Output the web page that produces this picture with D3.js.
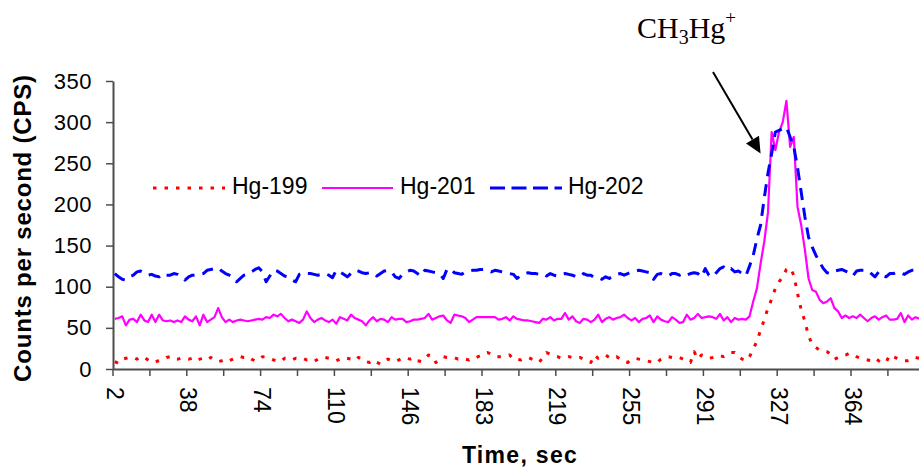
<!DOCTYPE html>
<html>
<head>
<meta charset="utf-8">
<script src="https://cdn.jsdelivr.net/npm/d3@7"></script>
<style>
  html, body { margin: 0; padding: 0; background: #fff; overflow: hidden; }
  svg { display: block; }
</style>
</head>
<body>
<svg id="chart" width="919" height="468"></svg>
<script>
// Mercury isotope signals (counts per second) recorded every scan.
const hg199 = [
  9, 7, 12, 13, 14, 14, 12, 15, 14, 11, 8, 9, 10, 11, 14, 15, 12, 12, 13, 13,
  12, 13, 10, 12, 13, 11, 14, 11, 9, 10, 12, 10, 12, 14, 15, 14, 15, 12, 10, 11,
  15, 14, 13, 11, 10, 9, 13, 13, 11, 13, 12, 13, 11, 11, 9, 12, 14, 14, 13, 12,
  10, 12, 14, 13, 12, 10, 14, 13, 9, 8, 11, 8, 6, 10, 12, 10, 9, 11, 14, 13,
  12, 14, 10, 9, 13, 17, 16, 8, 11, 15, 14, 14, 14, 12, 13, 12, 11, 14, 14, 16,
  19, 20, 18, 15, 15, 15, 16, 17, 12, 12, 11, 13, 14, 12, 10, 8, 14, 20, 18, 16,
  15, 13, 14, 15, 14, 13, 14, 12, 10, 8, 17, 13, 16, 17, 14, 13, 15, 12, 9, 8,
  11, 13, 12, 11, 10, 9, 7, 8, 12, 14, 15, 14, 13, 14, 12, 10, 8, 21, 12, 17,
  16, 13, 14, 16, 16, 15, 17, 20, 20, 15, 12, 10, 15, 24, 34, 47, 60, 74, 85, 98,
  106, 112, 121, 123, 114, 92, 72, 58, 40, 30, 26, 23, 22, 21, 18, 12, 14, 16, 17, 19,
  18, 15, 13, 12, 11, 10, 13, 10, 8, 8, 17, 15, 13, 11, 10, 10, 11, 14, 13
];
const hg201 = [
  61, 62, 64, 53, 60, 61, 57, 66, 59, 57, 66, 57, 66, 59, 58, 59, 57, 59, 57, 64,
  60, 58, 64, 53, 66, 57, 60, 63, 74, 63, 57, 60, 57, 59, 60, 59, 58, 59, 60, 61,
  60, 63, 62, 66, 64, 67, 62, 58, 60, 58, 56, 60, 70, 62, 57, 60, 62, 59, 57, 60,
  55, 63, 61, 59, 66, 62, 60, 58, 53, 59, 63, 58, 61, 60, 57, 63, 60, 61, 61, 57,
  58, 60, 60, 61, 62, 67, 60, 62, 64, 65, 59, 56, 66, 65, 64, 62, 57, 60, 63, 63,
  63, 63, 63, 63, 60, 61, 63, 59, 64, 61, 60, 59, 59, 58, 57, 56, 61, 60, 63, 59,
  61, 61, 68, 60, 64, 58, 56, 61, 60, 57, 60, 66, 57, 61, 63, 60, 62, 63, 66, 62,
  59, 62, 57, 61, 62, 65, 57, 64, 60, 58, 57, 63, 60, 56, 57, 66, 60, 62, 67, 62,
  63, 64, 63, 61, 67, 59, 63, 57, 62, 60, 61, 60, 64, 82, 98, 128, 155, 190, 288, 266,
  288, 300, 326, 270, 282, 197, 175, 145, 110, 96, 94, 84, 80, 82, 86, 74, 70, 62, 65, 62,
  64, 62, 66, 62, 58, 62, 64, 60, 63, 65, 60, 60, 61, 68, 57, 65, 60, 63, 61
];
const hg202 = [
  116, 112, 109, 108, 112, 114, 118, 119, 117, 114, 115, 113, 112, 116, 114, 114, 116, 115, 112, 108,
  112, 114, 114, 115, 116, 120, 121, 122, 123, 119, 116, 114, 112, 106, 110, 114, 115, 118, 121, 123,
  118, 106, 113, 120, 119, 116, 113, 112, 108, 106, 115, 117, 116, 116, 115, 114, 115, 116, 114, 111,
  120, 118, 115, 112, 116, 120, 119, 117, 116, 117, 117, 113, 116, 119, 120, 118, 112, 110, 115, 118,
  120, 119, 116, 113, 120, 119, 118, 117, 116, 110, 121, 122, 117, 116, 115, 118, 119, 120, 120, 121,
  121, 120, 118, 120, 119, 118, 117, 116, 115, 110, 114, 116, 117, 116, 116, 115, 116, 113, 116, 114,
  113, 115, 116, 115, 114, 112, 112, 116, 114, 114, 111, 111, 109, 112, 110, 113, 115, 116, 114, 116,
  118, 119, 120, 119, 118, 117, 109, 115, 116, 114, 113, 116, 116, 114, 116, 114, 116, 117, 116, 112,
  122, 114, 112, 117, 122, 124, 120, 122, 118, 119, 116, 113, 125, 138, 158, 175, 208, 238, 262, 288,
  290, 292, 294, 282, 270, 245, 215, 185, 160, 148, 138, 130, 122, 117, 116, 119, 120, 121, 119, 117,
  113, 119, 120, 120, 120, 116, 112, 118, 113, 112, 116, 116, 118, 117, 115, 118, 120, 120, 119
];

// Time labels shown under every 20th scan; tick marks every 10th scan.
const timeLabels = ["2", "38", "74", "110", "146", "183", "219", "255", "291", "327", "364"];
const labelEvery = 20;
const tickEvery = 10;
const yTicks = [0, 50, 100, 150, 200, 250, 300, 350];

const series = [
  { name: "Hg-199", values: hg199, color: "#ff0000", width: 3,   dash: "3.5,8" },
  { name: "Hg-201", values: hg201, color: "#ff00ff", width: 2.2, dash: null },
  { name: "Hg-202", values: hg202, color: "#0000ff", width: 3,   dash: "12,8" }
];

const svg = d3.select("#chart");
const N = hg201.length;
const plotLeft = 113, plotBottom = 369, plotTop = 81, step = 3.69;

const x = d3.scaleBand().domain(d3.range(N)).range([plotLeft, plotLeft + N * step]).paddingInner(0).paddingOuter(0);
const y = d3.scaleLinear().domain([0, 350]).range([plotBottom, plotTop]);
const cx = i => x(i) + x.bandwidth() / 2;

const axisColor = "#4d4d4d";
const sans = "'Liberation Sans', Arial, sans-serif";

// Y axis
const yAxis = svg.append("g")
  .attr("transform", `translate(${plotLeft},0)`)
  .call(d3.axisLeft(y).tickValues(yTicks).tickSize(7).tickPadding(14).tickSizeOuter(0));
yAxis.select(".domain").attr("stroke", axisColor).attr("stroke-width", 2);
yAxis.selectAll(".tick line").attr("stroke", axisColor).attr("stroke-width", 1.5);
yAxis.selectAll("text")
  .attr("fill", "#000")
  .style("font-family", sans)
  .style("font-size", "22px")
  .style("letter-spacing", "0.5px");

// X axis: ticks between scans, labels centred on scans
const xAxis = svg.append("g")
  .attr("transform", `translate(0,${plotBottom})`)
  .call(d3.axisBottom(x)
    .tickValues(d3.range(0, N, tickEvery))
    .tickSize(7)
    .tickSizeOuter(0)
    .tickFormat(i => (i % labelEvery === 0 ? timeLabels[i / labelEvery] || "" : "")));
xAxis.select(".domain").attr("stroke", axisColor).attr("stroke-width", 2);
xAxis.selectAll(".tick line")
  .attr("stroke", axisColor).attr("stroke-width", 1.5)
  .attr("transform", `translate(${-x.bandwidth() / 2},0)`);
xAxis.selectAll(".tick text")
  .attr("transform", "rotate(90)")
  .attr("x", 18).attr("y", 0).attr("dy", "0.36em")
  .style("text-anchor", "start")
  .attr("fill", "#000")
  .style("font-family", sans)
  .style("font-size", "23px");

// Series lines
const line = d3.line().x((d, i) => cx(i)).y(d => y(d));
series.forEach(s => {
  svg.append("path")
    .datum(s.values)
    .attr("fill", "none")
    .attr("stroke", s.color)
    .attr("stroke-width", s.width)
    .attr("stroke-dasharray", s.dash)
    .attr("stroke-linejoin", "round")
    .attr("d", line);
});

// Legend
const legendY = 188;
const legendItems = [
  { s: series[0], x0: 153, x1: 225, tx: 232 },
  { s: series[1], x0: 322, x1: 393, tx: 400 },
  { s: series[2], x0: 490, x1: 562, tx: 568 }
];
legendItems.forEach(it => {
  svg.append("line")
    .attr("x1", it.x0).attr("x2", it.x1)
    .attr("y1", legendY).attr("y2", legendY)
    .attr("stroke", it.s.color)
    .attr("stroke-width", it.s.width)
    .attr("stroke-dasharray", it.s.name === "Hg-202" ? "15,6.5" : it.s.dash);
  svg.append("text")
    .attr("x", it.tx).attr("y", legendY + 6)
    .style("font-family", sans)
    .style("font-size", "23px")
    .attr("fill", "#000")
    .text(it.s.name);
});

// Axis titles
svg.append("text")
  .attr("x", 520).attr("y", 463)
  .attr("text-anchor", "middle")
  .style("font-family", sans).style("font-weight", "bold")
  .style("font-size", "23px").style("letter-spacing", "1.3px")
  .text("Time, sec");

svg.append("text")
  .attr("transform", "translate(31,228) rotate(-90)")
  .attr("text-anchor", "middle")
  .style("font-family", sans).style("font-weight", "bold")
  .style("font-size", "24px").style("letter-spacing", "0.8px")
  .text("Counts per second (CPS)");

// Peak annotation
const label = svg.append("text")
  .attr("x", 637).attr("y", 38)
  .style("font-family", "'Liberation Serif', 'Times New Roman', serif")
  .style("font-size", "30px")
  .attr("fill", "#000");
label.append("tspan").text("CH");
label.append("tspan").attr("dy", 6).style("font-size", "20px").text("3");
label.append("tspan").attr("dy", -6).text("Hg");
label.append("tspan").attr("dy", -14).style("font-size", "19px").text("+");

const tip = [cx(175), y(262)];
const start = [713, 72];
const ang = Math.atan2(tip[1] - start[1], tip[0] - start[0]);
const headLen = 16, headHalf = 7.5;
const base = [tip[0] - headLen * Math.cos(ang), tip[1] - headLen * Math.sin(ang)];
svg.append("line")
  .attr("x1", start[0]).attr("y1", start[1])
  .attr("x2", base[0]).attr("y2", base[1])
  .attr("stroke", "#000").attr("stroke-width", 2);
svg.append("polygon")
  .attr("points", [
    tip,
    [base[0] + headHalf * Math.sin(ang), base[1] - headHalf * Math.cos(ang)],
    [base[0] - headHalf * Math.sin(ang), base[1] + headHalf * Math.cos(ang)]
  ].map(p => p.join(",")).join(" "))
  .attr("fill", "#000");
</script>
</body>
</html>
